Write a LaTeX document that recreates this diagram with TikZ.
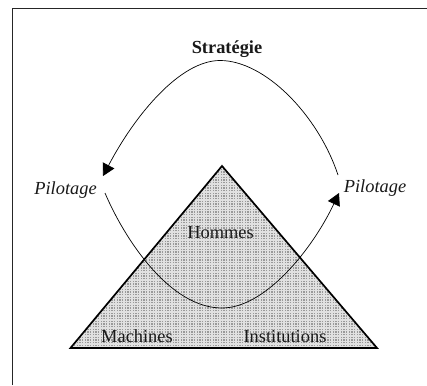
\documentclass[tikz,border=0pt]{standalone}
\usepackage{fontspec}
\setmainfont{Liberation Serif}
\usetikzlibrary{arrows.meta}
\definecolor{gridbase}{gray}{0.60}
\definecolor{gridline}{gray}{0.88}
\tikzset{
  lbl/.style={anchor=base,inner sep=0pt,font=\fontsize{18.4}{20}\selectfont,text=black!90},
  curve/.style={draw=black,line width=0.7pt,-{Triangle[length=12pt,width=13pt]}},
  tri/.style={draw=black,line width=1.7pt,line join=miter},
  gridstroke/.style={gridline,line width=1.1pt}
}
\begin{document}
\begin{tikzpicture}[x=1pt,y=-1pt]
\useasboundingbox (0,0) rectangle (427,385);
\fill[white] (0,0) rectangle (427,385);
\draw[line width=0.9pt,black!85] (12.5,385) -- (12.5,8) -- (427,8);
\coordinate (apex) at (222,166);
\coordinate (bl) at (70.5,348);
\coordinate (br) at (377,348);
\begin{scope}
  \clip (apex) -- (bl) -- (br) -- cycle;
  \fill[gridbase] (60,160) rectangle (390,355);
  \foreach \i in {0,...,124} {
    \draw[gridstroke] (60+\i*2.667,160) -- (60+\i*2.667,355);
  }
  \foreach \i in {0,...,74} {
    \draw[gridstroke] (60,160+\i*2.667) -- (390,160+\i*2.667);
  }
\end{scope}
\draw[tri] (apex) -- (bl) -- (br) -- cycle;
\coordinate (a0) at (338,175);
\coordinate (a1) at (220,60.5);
\coordinate (a2) at (103,176);
\coordinate (b0) at (105,193);
\coordinate (b1) at (222,308);
\coordinate (b2) at (339,193);
\draw[curve] (a0) .. controls (318,115) and (265,60.5) .. (a1) .. controls (180,60.5) and (135,115) .. (a2);
\draw[curve] (b0) .. controls (125,240) and (170,308) .. (b1) .. controls (265,308) and (312,250) .. (b2);
\node[lbl] (strategie) at (227,54) {\textbf{Stratégie}};
\node[lbl] (pilotL) at (65.5,194) {\textit{Pilotage}};
\node[lbl] (pilotR) at (375,192.5) {\textit{Pilotage}};
\node[lbl] (hommes) at (220.5,238) {Hommes};
\node[lbl] (machines) at (137,342) {Machines};
\node[lbl] (institutions) at (285,342) {Institutions};
\end{tikzpicture}
\end{document}
